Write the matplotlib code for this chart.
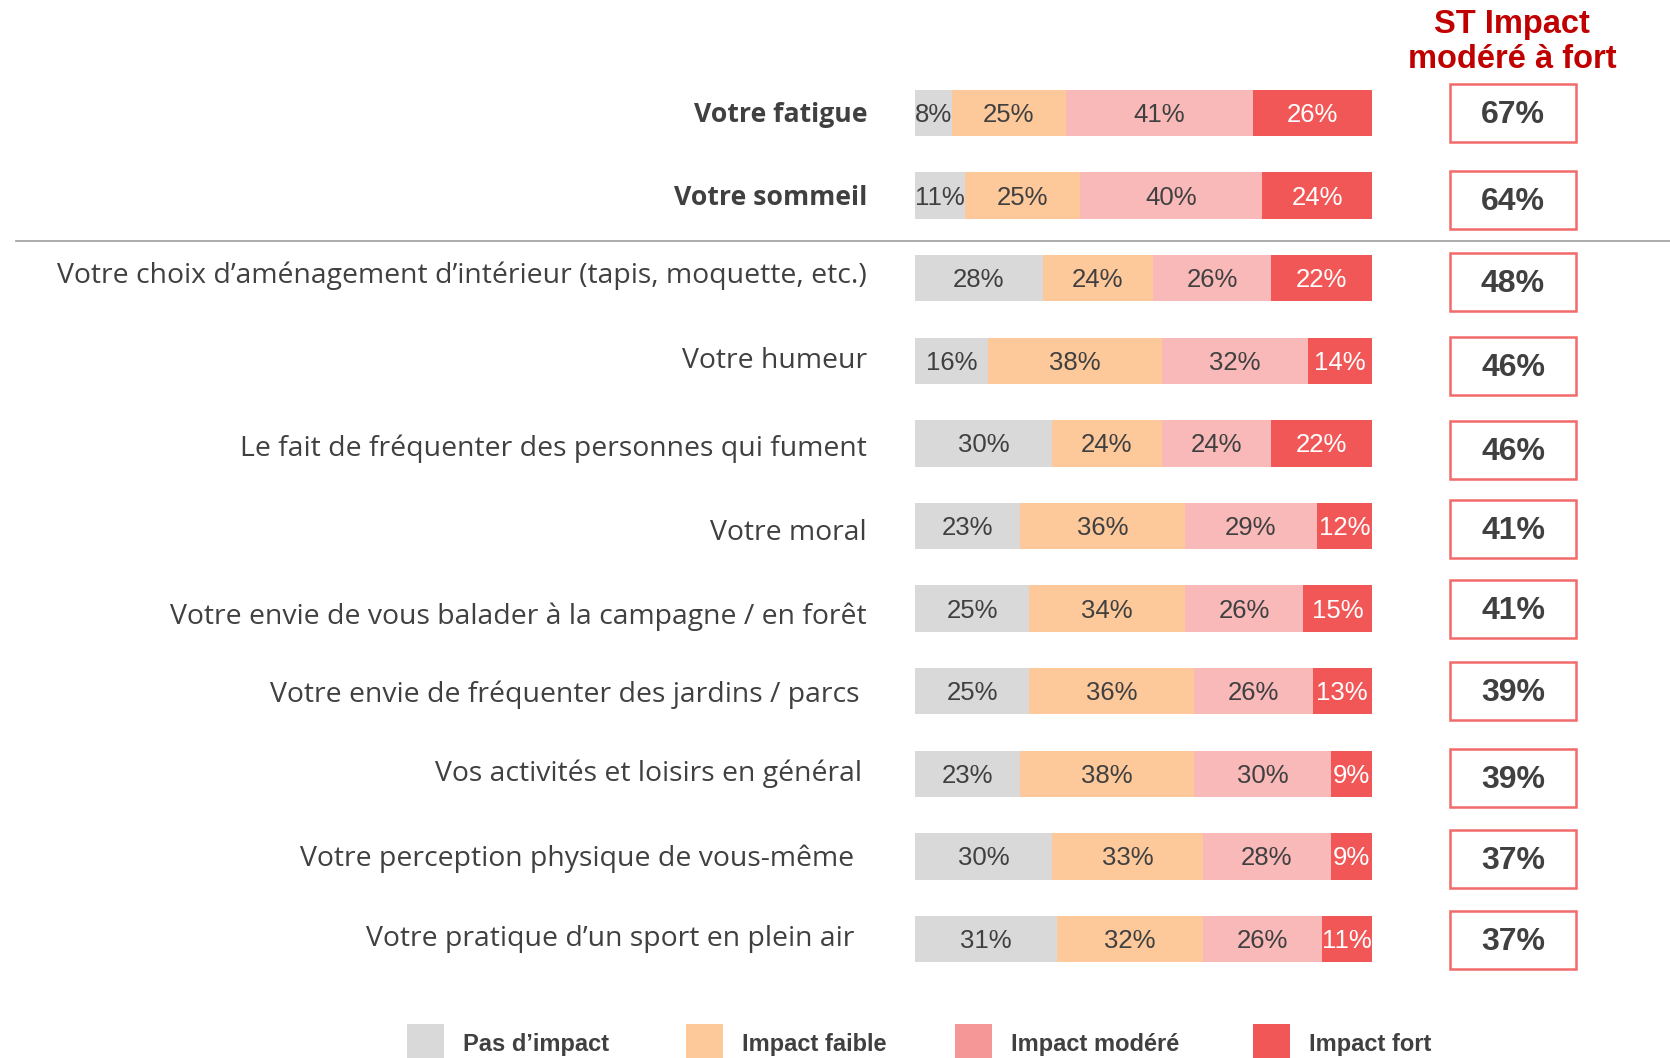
import matplotlib
matplotlib.use("Agg")
import matplotlib.pyplot as plt
from matplotlib.patches import Rectangle

# Data
categories = [
    "Votre fatigue",
    "Votre sommeil",
    "Votre choix d\u2019aménagement d\u2019intérieur (tapis, moquette, etc.)",
    "Votre humeur",
    "Le fait de fréquenter des personnes qui fument",
    "Votre moral",
    "Votre envie de vous balader à la campagne / en forêt",
    "Votre envie de fréquenter des jardins / parcs",
    "Vos activités et loisirs en général",
    "Votre perception physique de vous-même",
    "Votre pratique d\u2019un sport en plein air",
]
pas_impact = [8, 11, 28, 16, 30, 23, 25, 25, 23, 30, 31]
impact_faible = [25, 25, 24, 38, 24, 36, 34, 36, 38, 33, 32]
impact_modere = [41, 40, 26, 32, 24, 29, 26, 26, 30, 28, 26]
impact_fort = [26, 24, 22, 14, 22, 12, 15, 13, 9, 9, 11]
st_modere_fort = [67, 64, 48, 46, 46, 41, 41, 39, 39, 37, 37]
bold_rows = [0, 1]
series_names = ["Pas d\u2019impact", "Impact faible", "Impact modéré", "Impact fort"]

bar_colors = ["#D9D9D9", "#FDC99B", "#F9B9B9", "#F25757"]
legend_colors = ["#D9D9D9", "#FDC99B", "#F59797", "#F25757"]
text_colors = ["#404040", "#404040", "#404040", "white"]
TXT = "#404040"
RED = "#C00000"

# small hand nudges (pixels) so labels / boxes sit like in the slide
label_dx = [0, 0, 0, 0, 0, 0, 0, -8, -5, -13, -13]
label_dy = [2, 2, -2, 0, 5, 7, 8, 4, 0, 2, 0]
box_dy = [0, 4, 4, 5, 7, 3, 0, 0, 4, 3, 1]

W, H = 1670, 1058
fig = plt.figure(figsize=(W / 100, H / 100), dpi=100)

n = len(categories)
# bar axes in pixel layout: x 915..1372, rows centred 113..939
x0, x1 = 915, 1372
row_top, row_step = 113, 82.6
ax_top = row_top - row_step / 2
ax_bot = ax_top + row_step * n
ax = fig.add_axes([x0 / W, 1 - ax_bot / H, (x1 - x0) / W, (ax_bot - ax_top) / H])
ax.set_xlim(0, 100)
ax.set_ylim(n - 0.5, -0.5)
ax.axis("off")

px_x = 100 / (x1 - x0)   # data units per pixel
px_y = 1 / row_step

series = [pas_impact, impact_faible, impact_modere, impact_fort]
left = [0] * n
for vals, col, tcol in zip(series, bar_colors, text_colors):
    ax.barh(range(n), vals, left=left, height=0.56, color=col, edgecolor="none")
    for i, v in enumerate(vals):
        ax.text(left[i] + v / 2, i + 2 * px_y, f"{v}%", ha="center", va="center",
                fontsize=18.5, color=tcol, family="Liberation Sans")
    left = [a + b for a, b in zip(left, vals)]

# category labels
for i, c in enumerate(categories):
    bold = i in bold_rows
    ax.text(-10.5 + label_dx[i] * px_x, i + label_dy[i] * px_y, c, ha="right",
            va="center", fontsize=19.2 if bold else 20.4, color=TXT,
            family="Open Sans", fontweight="bold" if bold else "normal",
            clip_on=False)

# ST boxes
bx0, bx1 = (1450 - x0) * px_x, (1576 - x0) * px_x
bh = 0.70
for i, v in enumerate(st_modere_fort):
    yc = i + box_dy[i] * px_y
    ax.add_patch(Rectangle((bx0, yc - bh / 2), bx1 - bx0, bh, facecolor="white",
                           edgecolor="#F26B6B", linewidth=1.8, clip_on=False))
    ax.text((bx0 + bx1) / 2, yc + 2 * px_y, f"{v}%", ha="center", va="center",
            fontsize=23, fontweight="bold", color=TXT, family="Liberation Sans",
            clip_on=False)

# header
fig.text(1512 / W, 1 - 42 / H, "ST Impact\nmodéré à fort", ha="center", va="center",
         fontsize=23.5, fontweight="bold", color=RED, family="Liberation Sans",
         linespacing=1.2)

# separator line
fig.add_artist(plt.Line2D([16 / W, 1.0], [1 - 241 / H, 1 - 241 / H],
                          color="#A6A6A6", linewidth=1.3))

# legend
sq_x = [407, 686, 955, 1253]
for name, col, sx in zip(series_names, legend_colors, sq_x):
    fig.add_artist(Rectangle((sx / W, 0), 37 / W, 34 / H, facecolor=col,
                             edgecolor="none", transform=fig.transFigure))
    fig.text((sx + 56) / W, 1 - 1045 / H, name, ha="left", va="center",
             fontsize=17, fontweight="bold", color=TXT, family="Liberation Sans")

fig.savefig("out.png", dpi=100)
